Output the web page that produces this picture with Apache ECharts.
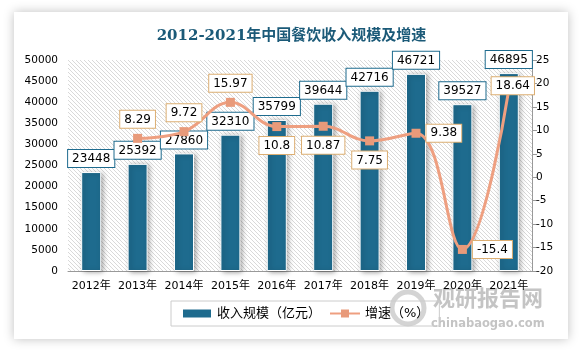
<!DOCTYPE html>
<html>
<head>
<meta charset="utf-8">
<script src="https://cdn.jsdelivr.net/npm/echarts@6/dist/echarts.min.js"></script>
<style>
  html, body { margin: 0; padding: 0; background: #fff; }
  #main { width: 583px; height: 352px; }
</style>
</head>
<body>
<div id="main"></div>
<script>
// data
var years = ['2012年', '2013年', '2014年', '2015年', '2016年', '2017年', '2018年', '2019年', '2020年', '2021年'];
var revenue = [23448, 25392, 27860, 32310, 35799, 39644, 42716, 46721, 39527, 46895];
var growth = ['-', 8.29, 9.72, 15.97, 10.8, 10.87, 7.75, 9.38, -15.4, 18.64];
var growthPos = ['top', 'top', 'top', 'top', 'bottom', 'bottom', 'bottom', 'right', 'right', 'inside'];

var FONT = '"DejaVu Sans", "Noto Sans CJK SC", sans-serif';

// diagonal hatch for the plot area
var hatch = document.createElement('canvas');
hatch.width = 4; hatch.height = 4;
var hc = hatch.getContext('2d');
hc.fillStyle = '#fff';
hc.fillRect(0, 0, 4, 4);
hc.strokeStyle = '#d9d9d9';
hc.lineWidth = 1;
hc.beginPath();
hc.moveTo(-1, -1); hc.lineTo(5, 5);
hc.moveTo(3, -1); hc.lineTo(5, 1);
hc.moveTo(-1, 3); hc.lineTo(1, 5);
hc.stroke();

var chart = echarts.init(document.getElementById('main'));

var lineData = growth.map(function (v, i) {
  if (v === '-') return v;
  var p = growthPos[i];
  var lab = { position: p };
  if (p === 'inside') lab.offset = [4, -4];
  return { value: v, label: lab };
});

chart.setOption({
  animation: false,
  title: {
    text: '2012-2021年中国餐饮收入规模及增速',
    left: 'center',
    top: 24,
    textStyle: {
      fontFamily: '"DejaVu Serif", "Noto Sans CJK SC", serif',
      fontSize: 15,
      fontWeight: 'bold',
      color: '#1b5a78'
    }
  },
  graphic: [
    {
      type: 'rect', z: -10, silent: true,
      shape: { x: 14, y: 12, width: 554, height: 327 },
      style: { fill: '#fff', shadowBlur: 10, shadowColor: 'rgba(0,0,0,0.25)' }
    },
    {
      type: 'circle', z: -5, silent: true,
      shape: { cx: 408, cy: 308, r: 16 },
      style: { fill: 'none', stroke: '#d4d4d4', lineWidth: 5 }
    },
    {
      type: 'text', z: -5, silent: true, left: 433, top: 287,
      style: { text: '观研报告网', fill: '#c4c4c4', font: 'bold 22px "Noto Sans CJK SC", sans-serif' }
    },
    {
      type: 'text', z: -5, silent: true, left: 431, top: 318,
      style: { text: 'chinabaogao.com', fill: '#c4c4c4', font: 'bold 11.5px "DejaVu Sans", sans-serif' }
    }
  ],
  grid: {
    left: 68, right: 51, top: 60, bottom: 81,
    show: true,
    borderWidth: 0,
    backgroundColor: { image: hatch, repeat: 'repeat' }
  },
  legend: {
    left: 171,
    top: 301,
    itemWidth: 30,
    itemHeight: 10,
    itemGap: 8,
    padding: [6, 10],
    borderColor: '#cccccc',
    borderWidth: 1,
    textStyle: { fontFamily: FONT, fontSize: 13, color: '#000' },
    data: [
      { name: '收入规模（亿元）', icon: 'rect' },
      { name: '增速（%）' }
    ]
  },
  xAxis: {
    type: 'category',
    data: years,
    axisLine: { lineStyle: { color: '#999' } },
    axisTick: { show: false },
    axisLabel: { color: '#000', fontFamily: FONT, fontSize: 11, margin: 10, interval: 0 }
  },
  yAxis: [
    {
      type: 'value',
      min: 0, max: 50000, interval: 5000,
      splitLine: { show: false },
      axisLine: { show: false },
      axisTick: { show: false },
      axisLabel: {
        color: '#000', fontFamily: FONT, fontSize: 10.5, margin: 10,
        formatter: function (v) { return String(v); }
      }
    },
    {
      type: 'value',
      min: -20, max: 25, interval: 5,
      splitLine: { show: false },
      axisLine: { show: true, lineStyle: { color: '#999' } },
      axisTick: { show: true, length: 5, lineStyle: { color: '#999' } },
      axisLabel: {
        color: '#000', fontFamily: FONT, fontSize: 10.5, margin: 4,
        formatter: function (v) { return String(v); }
      }
    }
  ],
  series: [
    {
      name: '收入规模（亿元）',
      type: 'bar',
      data: revenue,
      barWidth: 20,
      itemStyle: {
        color: '#1e6b8e',
        borderColor: '#fff',
        borderWidth: 1,
        shadowBlur: 5,
        shadowOffsetX: 2,
        shadowOffsetY: 1,
        shadowColor: 'rgba(0,0,0,0.35)'
      },
      label: {
        show: true,
        position: 'top',
        distance: 5,
        color: '#000',
        fontFamily: FONT,
        fontSize: 12,
        backgroundColor: '#fff',
        borderColor: '#1e6b8e',
        borderWidth: 1,
        padding: [3, 4, 2, 4]
      }
    },
    {
      name: '增速（%）',
      type: 'line',
      yAxisIndex: 1,
      data: lineData,
      smooth: 0.4,
      symbol: 'rect',
      symbolSize: 9,
      lineStyle: { color: '#ee9f80', width: 3 },
      itemStyle: { color: '#e89a7a' },
      label: {
        show: true,
        distance: 6,
        color: '#000',
        fontFamily: FONT,
        fontSize: 12,
        backgroundColor: '#fff',
        borderColor: '#dcae72',
        borderWidth: 1,
        padding: [3, 4, 2, 4]
      },
      z: 3
    }
  ]
});
</script>
</body>
</html>
